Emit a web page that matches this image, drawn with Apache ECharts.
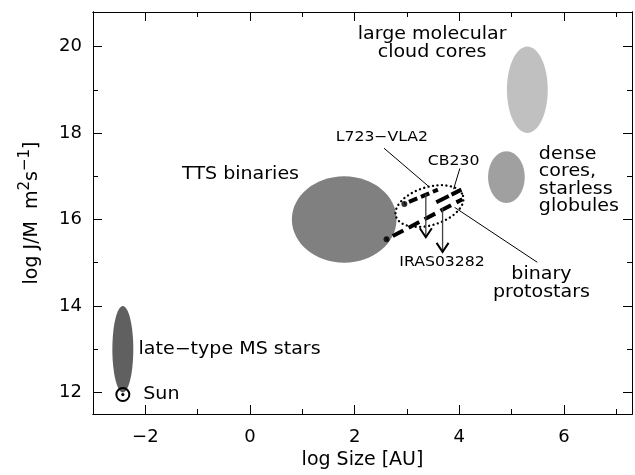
<!DOCTYPE html>
<html><head><meta charset="utf-8">
<script src="https://cdn.jsdelivr.net/npm/echarts@6/dist/echarts.min.js"></script>
<style>html,body{margin:0;padding:0;background:#fff}#c{width:635px;height:475px}</style>
</head><body><div id="c"></div>
<script>
// ---------- data ----------
const xMajorTicks = [-2, 0, 2, 4, 6];
const xMinorTicks = [-1, 1, 3, 5, 7];
const yMajorTicks = [12, 14, 16, 18, 20];
const yMinorTicks = [13, 15, 17, 19];

// filled regions (centre and half-extent, in axis units)
const regionNames   = ['late-type MS stars', 'TTS binaries', 'dense cores', 'large molecular cloud cores'];
const regionCenterX = [-2.43, 1.80, 4.90, 5.30];
const regionCenterY = [13.00, 16.00, 16.98, 19.00];
const regionHalfX   = [0.20, 1.00, 0.35, 0.39];
const regionHalfY   = [1.00, 1.00, 0.60, 1.00];

// binary protostars envelope (dotted, tilted)
const envelopeCenter = [3.43, 16.31];
const envelopeHalf   = [0.67, 0.44];
const envelopeTiltDeg = 17;

// protostar tracks
const trackNames = ['L723-VLA2', 'CB230', 'IRAS03282'];
const trackX = [[2.95, 3.59], [3.56, 4.04], [2.61, 4.06]];
const trackY = [[16.36, 16.69], [16.40, 16.69], [15.54, 16.47]];
const trackStartDot = [true, false, true];

// upper limits (arrows)
const arrowX    = [3.36, 3.68];
const arrowFrom = [16.59, 16.26];
const arrowTo   = [15.59, 15.25];

// leader lines
const leaderFrom = [[2.56, 17.65], [4.01, 17.18], [3.91, 16.28]];
const leaderTo   = [[3.40, 16.78], [3.89, 16.70], [5.49, 15.01]];

// Sun
const sunPoint = [-2.43, 11.95];

// labels
const labelTexts = ['large molecular\ncloud cores', 'TTS binaries', 'dense\ncores,\nstarless\nglobules',
  'late\u2212type MS stars', 'Sun', 'L723\u2212VLA2', 'CB230', 'IRAS03282', 'binary\nprotostars'];
const labelX = [3.48, -0.18, 5.52, -2.13, -2.04, 2.52, 3.89, 3.67, 5.57];
const labelY = [20.07, 17.05, 16.90, 12.98, 11.96, 17.91, 17.34, 15.01, 14.52];

// ---------- styles ----------
const FONT = 'DejaVu Sans';
const regionColors = ['#606060', '#808080', '#a0a0a0', '#c0c0c0'];
const labelAlign = ['center', 'center', 'left', 'left', 'left', 'center', 'center', 'center', 'center'];
const labelSize  = [17, 17, 17, 17, 17, 14, 14, 14, 17];
const trackDash  = [[9, 4], [14, 3], [12, 6]];
const trackDashOffset = [8, 0, 11];

const fmt = v => (v < 0 ? '\u2212' + Math.abs(v) : String(v));

function xAx(position, ticks, len, showLabel, extra) {
  return Object.assign({
    type: 'value', min: -3, max: 7.3, position: position,
    axisLine: { show: true, onZero: false, lineStyle: { color: '#000', width: 1 } },
    axisTick: { show: true, inside: true, length: len, customValues: ticks, lineStyle: { color: '#000', width: 1 } },
    axisLabel: { show: showLabel, customValues: ticks, formatter: fmt, color: '#000', fontFamily: FONT, fontSize: 18, margin: 14 },
    splitLine: { show: false }
  }, extra || {});
}
function yAx(position, ticks, len, showLabel, extra) {
  return Object.assign({
    type: 'value', min: 11.5, max: 20.8, position: position,
    axisLine: { show: true, onZero: false, lineStyle: { color: '#000', width: 1 } },
    axisTick: { show: true, inside: true, length: len, customValues: ticks, lineStyle: { color: '#000', width: 1 } },
    axisLabel: { show: showLabel, customValues: ticks, formatter: fmt, color: '#000', fontFamily: FONT, fontSize: 18, margin: 11 },
    splitLine: { show: false }
  }, extra || {});
}

const series = [];

// filled ellipses
series.push({
  type: 'custom', silent: true, xAxisIndex: 0, yAxisIndex: 0,
  data: regionNames.map((n, i) => [regionCenterX[i], regionCenterY[i], regionHalfX[i], regionHalfY[i], i]),
  renderItem: function (params, api) {
    const c = api.coord([api.value(0), api.value(1)]);
    const s = api.size([api.value(2), api.value(3)]);
    return { type: 'ellipse', shape: { cx: c[0], cy: c[1], rx: s[0], ry: s[1] },
      style: { fill: regionColors[api.value(4)], stroke: null } };
  }
});

// dotted envelope
series.push({
  type: 'custom', silent: true, z: 3,
  data: [[envelopeCenter[0], envelopeCenter[1], envelopeHalf[0], envelopeHalf[1], envelopeTiltDeg]],
  renderItem: function (params, api) {
    const c = api.coord([api.value(0), api.value(1)]);
    const s = api.size([api.value(2), api.value(3)]);
    const th = api.value(4) * Math.PI / 180;
    const pts = [];
    for (let k = 0; k < 120; k++) {
      const t = k / 120 * Math.PI * 2;
      const a = s[0] * Math.cos(t), b = s[1] * Math.sin(t);
      pts.push([c[0] + a * Math.cos(th) + b * Math.sin(th), c[1] - a * Math.sin(th) + b * Math.cos(th)]);
    }
    return { type: 'polygon', shape: { points: pts },
      style: { fill: null, stroke: '#000', lineWidth: 2.3, lineDash: [0.1, 4.4], lineCap: 'round' } };
  }
});

// tracks
trackNames.forEach((n, i) => {
  series.push({
    type: 'line', name: n, silent: true, z: 4, symbol: 'none', animation: false,
    data: [[trackX[i][0], trackY[i][0]], [trackX[i][1], trackY[i][1]]],
    lineStyle: { color: '#000', width: 4, type: trackDash[i], dashOffset: trackDashOffset[i], cap: 'butt' }
  });
});
series.push({
  type: 'scatter', silent: true, z: 5, symbol: 'circle', symbolSize: 6,
  itemStyle: { color: '#000' },
  data: trackNames.map((n, i) => [trackX[i][0], trackY[i][0]]).filter((p, i) => trackStartDot[i])
});

// arrows
series.push({
  type: 'custom', silent: true, z: 5,
  data: arrowX.map((x, i) => [x, arrowFrom[i], arrowTo[i]]),
  renderItem: function (params, api) {
    const p0 = api.coord([api.value(0), api.value(1)]);
    const p1 = api.coord([api.value(0), api.value(2)]);
    return { type: 'group', children: [
      { type: 'line', shape: { x1: p0[0], y1: p0[1], x2: p1[0], y2: p1[1] }, style: { stroke: '#404040', lineWidth: 1.3 } },
      { type: 'polyline', shape: { points: [[p1[0] - 6, p1[1] - 9], [p1[0], p1[1]], [p1[0] + 6, p1[1] - 9]] },
        style: { stroke: '#000', lineWidth: 2, fill: null } }
    ] };
  }
});

// leader lines
series.push({
  type: 'custom', silent: true, z: 5,
  data: leaderFrom.map((p, i) => [p[0], p[1], leaderTo[i][0], leaderTo[i][1]]),
  renderItem: function (params, api) {
    const a = api.coord([api.value(0), api.value(1)]);
    const b = api.coord([api.value(2), api.value(3)]);
    return { type: 'line', shape: { x1: a[0], y1: a[1], x2: b[0], y2: b[1] }, style: { stroke: '#000', lineWidth: 1 } };
  }
});

// Sun symbol
series.push({
  type: 'custom', silent: true, z: 6,
  data: [sunPoint],
  renderItem: function (params, api) {
    const c = api.coord([api.value(0), api.value(1)]);
    return { type: 'group', children: [
      { type: 'circle', shape: { cx: c[0], cy: c[1], r: 6.5 }, style: { fill: null, stroke: '#000', lineWidth: 2 } },
      { type: 'circle', shape: { cx: c[0], cy: c[1], r: 1.6 }, style: { fill: '#000' } }
    ] };
  }
});

// labels
series.push({
  type: 'custom', silent: true, z: 7,
  data: labelTexts.map((t, i) => [labelX[i], labelY[i], i]),
  renderItem: function (params, api) {
    const i = api.value(2);
    const c = api.coord([api.value(0), api.value(1)]);
    return { type: 'text', x: c[0], y: c[1], scaleX: 1.12, scaleY: 1,
      style: { text: labelTexts[i], fill: '#000', fontFamily: FONT, fontSize: labelSize[i],
        align: labelAlign[i], verticalAlign: 'middle', lineHeight: 17.5 } };
  }
});

const chart = echarts.init(document.getElementById('c'), null, { renderer: 'canvas' });
chart.setOption({
  animation: false,
  backgroundColor: '#fff',
  grid: { left: 93, right: 3, top: 12, bottom: 59, containLabel: false },
  xAxis: [
    xAx('bottom', xMajorTicks, 9, true, {
      name: 'log Size [AU]', nameLocation: 'middle', nameGap: 37,
      nameTextStyle: { color: '#000', fontFamily: FONT, fontSize: 19 } }),
    xAx('bottom', xMinorTicks, 5, false),
    xAx('top', xMajorTicks, 9, false),
    xAx('top', xMinorTicks, 5, false)
  ],
  yAxis: [
    yAx('left', yMajorTicks, 9, true, {
      name: '{a|log J/M  m}{s|2}{a|s}{s|\u22121}{a|]}', nameLocation: 'middle', nameGap: 47, nameRotate: 90,
      nameTextStyle: { color: '#000', rich: {
        a: { fontFamily: FONT, fontSize: 19, lineHeight: 28, color: '#000' },
        s: { fontFamily: FONT, fontSize: 15, lineHeight: 14, verticalAlign: 'top', color: '#000' } } } }),
    yAx('left', yMinorTicks, 5, false),
    yAx('right', yMajorTicks, 9, false),
    yAx('right', yMinorTicks, 5, false)
  ],
  series: series
});
</script></body></html>
